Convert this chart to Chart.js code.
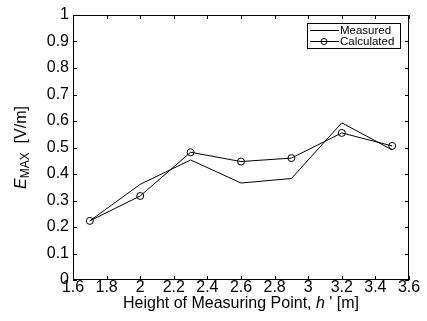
<!DOCTYPE html>
<html>
<head>
<meta charset="utf-8">
<script src="https://cdn.jsdelivr.net/npm/chart.js@4"></script>
<style>
  html, body { margin: 0; padding: 0; background: #fff; }
  #wrap { width: 427px; height: 321px; }
</style>
</head>
<body>
<div id="wrap"><canvas id="chart"></canvas></div>
<script>
// data
const heights = [1.7, 2.0, 2.3, 2.6, 2.9, 3.2, 3.5];
const measured = [0.223, 0.361, 0.453, 0.366, 0.383, 0.593, 0.491];
const calculated = [0.223, 0.317, 0.482, 0.447, 0.460, 0.555, 0.506];
const seriesNames = ['Measured', 'Calculated'];

const FONT = 'Liberation Sans, Arial, sans-serif';

function toPoints(ys) {
    return heights.map((x, i) => ({ x: x, y: ys[i] }));
}

// MATLAB-style frame: box, inward ticks, legend and axis titles
const frame = {
    id: 'frame',
    afterDraw(chart) {
        const ctx = chart.ctx;
        const a = chart.chartArea;
        const xs = chart.scales.x;
        const ys = chart.scales.y;
        const len = 4;
        ctx.save();
        ctx.strokeStyle = '#000';
        ctx.lineWidth = 1;
        ctx.strokeRect(a.left + 0.5, a.top + 0.5, a.right - a.left - 1, a.bottom - a.top - 1);
        ctx.beginPath();
        xs.ticks.forEach(t => {
            const px = Math.round(xs.getPixelForValue(t.value)) + 0.5;
            ctx.moveTo(px, a.bottom); ctx.lineTo(px, a.bottom - len);
            ctx.moveTo(px, a.top); ctx.lineTo(px, a.top + len);
        });
        ys.ticks.forEach(t => {
            const py = Math.round(ys.getPixelForValue(t.value)) + 0.5;
            ctx.moveTo(a.left, py); ctx.lineTo(a.left + len, py);
            ctx.moveTo(a.right, py); ctx.lineTo(a.right - len, py);
        });
        ctx.stroke();

        // legend
        const lx = 307, ly = 23, lw = 93, lh = 25;
        ctx.fillStyle = '#fff';
        ctx.fillRect(lx, ly, lw, lh);
        ctx.strokeRect(lx + 0.5, ly + 0.5, lw, lh);
        ctx.font = '11.5px ' + FONT;
        ctx.textBaseline = 'middle';
        ctx.fillStyle = '#000';
        chart.data.datasets.forEach((ds, i) => {
            const yy = ly + 7.5 + i * 11;
            ctx.beginPath();
            ctx.moveTo(lx + 3, yy); ctx.lineTo(lx + 32, yy);
            ctx.stroke();
            if (ds.pointRadius > 0) {
                ctx.beginPath();
                ctx.arc(lx + 17, yy, 3, 0, Math.PI * 2);
                ctx.stroke();
            }
            ctx.fillText(ds.label, lx + 33, yy + 0.5);
        });

        // x title
        ctx.textBaseline = 'middle';
        const p1 = 'Height of Measuring Point, ';
        const p2 = 'h';
        const p3 = " ' [m]";
        ctx.font = '16px ' + FONT;
        const w1 = ctx.measureText(p1).width;
        const w3 = ctx.measureText(p3).width;
        ctx.font = 'italic 16px ' + FONT;
        const w2 = ctx.measureText(p2).width;
        let sx = (a.left + a.right) / 2 - (w1 + w2 + w3) / 2;
        const ty = 304;
        ctx.textAlign = 'left';
        ctx.font = '16px ' + FONT;
        ctx.fillText(p1, sx, ty);
        ctx.font = 'italic 16px ' + FONT;
        ctx.fillText(p2, sx + w1, ty);
        ctx.font = '16px ' + FONT;
        ctx.fillText(p3, sx + w1 + w2, ty);

        // y title
        ctx.translate(22, (a.top + a.bottom) / 2);
        ctx.rotate(-Math.PI / 2);
        ctx.font = 'italic 16px ' + FONT;
        const e = 'E';
        const we = ctx.measureText(e).width;
        ctx.font = '12px ' + FONT;
        const sub = 'MAX';
        const ws = ctx.measureText(sub).width;
        ctx.font = '16px ' + FONT;
        const unit = '  [V/m]';
        const wu = ctx.measureText(unit).width;
        let ox = -(we + ws + wu) / 2;
        ctx.font = 'italic 16px ' + FONT;
        ctx.fillText(e, ox, 0);
        ctx.font = '12px ' + FONT;
        ctx.fillText(sub, ox + we, 4);
        ctx.font = '16px ' + FONT;
        ctx.fillText(unit, ox + we + ws, 0);
        ctx.restore();
    }
};

new Chart(document.getElementById('chart'), {
    type: 'line',
    data: {
        datasets: [{
            label: seriesNames[0],
            data: toPoints(measured),
            borderColor: '#000',
            borderWidth: 1,
            pointRadius: 0,
            fill: false,
            tension: 0
        }, {
            label: seriesNames[1],
            data: toPoints(calculated),
            borderColor: '#000',
            borderWidth: 1,
            pointRadius: 3.5,
            pointBorderColor: '#000',
            pointBackgroundColor: 'rgba(0,0,0,0)',
            pointBorderWidth: 1,
            fill: false,
            tension: 0
        }]
    },
    options: {
        responsive: true,
        maintainAspectRatio: false,
        animation: false,
        layout: { padding: { top: 15, right: 18, left: 0, bottom: 0 } },
        plugins: { legend: { display: false }, tooltip: { enabled: false } },
        scales: {
            x: {
                type: 'linear',
                min: 1.6,
                max: 3.6,
                afterFit(scale) { scale.height = 41; },
                ticks: {
                    stepSize: 0.2,
                    color: '#000',
                    padding: -2,
                    maxRotation: 0,
                    font: { family: FONT, size: 16 },
                    callback: v => String(Number(v.toFixed(1)))
                },
                grid: { drawOnChartArea: false, drawTicks: false },
                border: { display: false }
            },
            y: {
                min: 0,
                max: 1,
                afterFit(scale) { scale.width = 73; },
                ticks: {
                    stepSize: 0.1,
                    color: '#000',
                    padding: 4,
                    font: { family: FONT, size: 16 },
                    callback: v => String(Number(v.toFixed(1)))
                },
                grid: { drawOnChartArea: false, drawTicks: false },
                border: { display: false }
            }
        }
    },
    plugins: [frame]
});
</script>
</body>
</html>
